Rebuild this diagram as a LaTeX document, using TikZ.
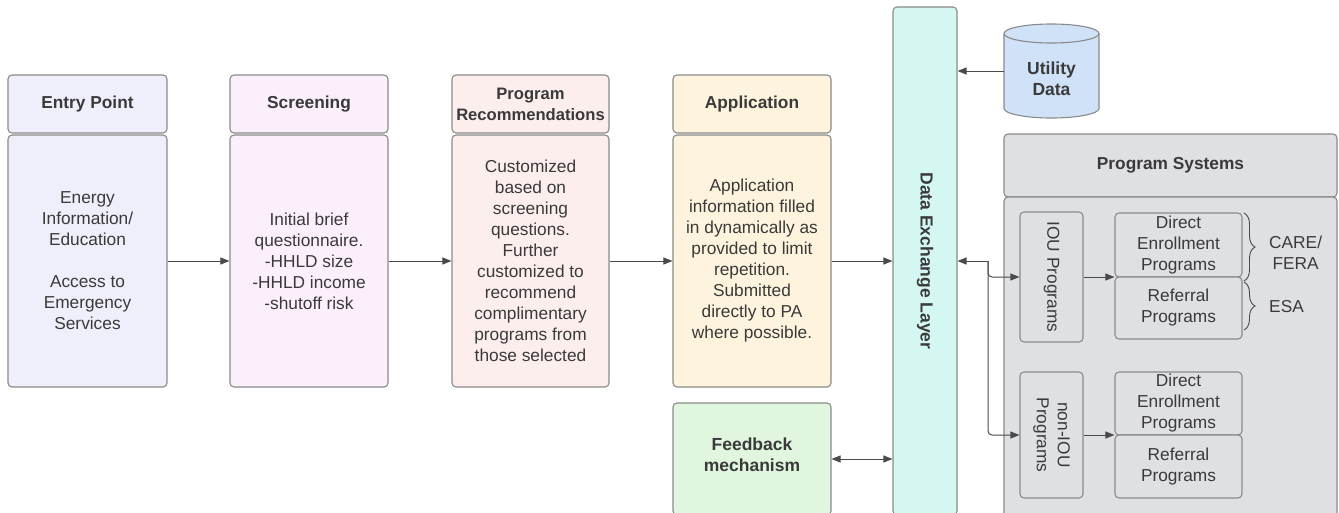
\documentclass[tikz,border=0pt]{standalone}
\usepackage{fontspec}
\setmainfont{Liberation Sans}
\usetikzlibrary{arrows.meta,decorations.pathreplacing,calc}
\definecolor{bordc}{HTML}{8A8A8A}
\definecolor{txt}{HTML}{3A3A3A}
\definecolor{arrc}{HTML}{4A4A4A}
\definecolor{entryfill}{HTML}{EFEFFC}
\definecolor{screenfill}{HTML}{FBEFFC}
\definecolor{progfill}{HTML}{FDEEEE}
\definecolor{appfill}{HTML}{FEF3DD}
\definecolor{delfill}{HTML}{D4F8F1}
\definecolor{utilfill}{HTML}{CFE2F8}
\definecolor{psfill}{HTML}{DFE0E4}
\definecolor{fbfill}{HTML}{E0F6DF}
\begin{document}
\begin{tikzpicture}[x=1pt,y=-1pt,
  box/.style={draw=bordc, line width=1.1pt, rounded corners=4pt, inner sep=0pt, align=center, text=txt,
    font=\fontsize{17.3}{21}\selectfont},
  headbox/.style={box, font=\fontsize{17.3}{21}\selectfont\bfseries},
  lbl/.style={inner sep=0pt, align=center, text=txt, font=\fontsize{17.3}{21}\selectfont},
  blbl/.style={lbl, font=\fontsize{17.5}{21}\selectfont\bfseries},
  arr/.style={draw=arrc, line width=1pt, -{Triangle[length=9pt,width=7pt]}},
  darr/.style={draw=arrc, line width=1pt, {Triangle[length=9pt,width=7pt]}-{Triangle[length=9pt,width=7pt]}},
  bracestyle/.style={draw=arrc, line width=0.9pt, decorate, decoration={brace, amplitude=11pt}}
]
\useasboundingbox (0,0) rectangle (1339,512);

% Column headers
\node[headbox, fill=entryfill, minimum width=159pt, minimum height=58pt] (eph) at (87.5,104) {Entry Point};
\node[headbox, fill=screenfill, minimum width=158pt, minimum height=58pt] (sch) at (309,104) {Screening};
\node[headbox, fill=progfill, minimum width=157pt, minimum height=58pt, font=\fontsize{16.6}{21}\selectfont\bfseries] (prh) at (530.5,104) {Program\\Recommendations};
\node[headbox, fill=appfill, minimum width=158pt, minimum height=58pt] (aph) at (752,104) {Application};

% Column bodies
\node[box, fill=entryfill, minimum width=159pt, minimum height=252pt] (epb) at (87.5,261) {};
\node[lbl] at (epb.center) {Energy\\Information/\\Education\\[21pt]Access to\\Emergency\\Services};
\node[box, fill=screenfill, minimum width=158pt, minimum height=252pt] (scb) at (309,261) {};
\node[lbl] at (scb.center) {Initial brief\\questionnaire.\\-HHLD size\\-HHLD income\\-shutoff risk};
\node[box, fill=progfill, minimum width=157pt, minimum height=252pt] (prb) at (530.5,261) {};
\node[lbl] at (prb.center) {Customized\\based on\\screening\\questions.\\Further\\customized to\\recommend\\complimentary\\programs from\\those selected};
\node[box, fill=appfill, minimum width=158pt, minimum height=252pt] (apb) at (752,261) {};
\node[lbl] at (apb.center) {Application\\information filled\\in dynamically as\\provided to limit\\repetition.\\Submitted\\directly to PA\\where possible.};

% Data exchange layer
\node[box, fill=delfill, minimum width=64pt, minimum height=508pt] (del) at (925,261) {};
\node[blbl, rotate=-90] (deltext) at (925,261) {Data Exchange Layer};

% Feedback
\node[box, fill=fbfill, minimum width=158pt, minimum height=112pt] (fb) at (752,459) {};
\node[blbl] (fbtext) at (752,455) {Feedback\\mechanism};

% Utility data cylinder
\node[inner sep=0pt, minimum width=95pt, minimum height=94pt] (util) at (1051.5,71) {};
\filldraw[draw=bordc, fill=utilfill, line width=1.1pt]
  (1004,33.5) -- (1004,108.5) arc[start angle=180, end angle=360, x radius=47.5pt, y radius=9.5pt]
  -- (1099,33.5) arc[start angle=0, end angle=180, x radius=47.5pt, y radius=9.5pt] -- cycle;
\draw[draw=bordc, line width=1.1pt] (1004,33.5) arc[start angle=180, end angle=360, x radius=47.5pt, y radius=9.5pt];
\node[blbl] (utiltext) at (1051.5,79) {Utility\\Data};

% Program systems
\node[headbox, fill=psfill, minimum width=333pt, minimum height=63pt] (psh) at (1170.5,165.5) {Program Systems};
\node[box, fill=psfill, minimum width=333pt, minimum height=323pt] (psb) at (1170.5,358.5) {};

\node[box, fill=psfill, minimum width=63pt, minimum height=130pt] (iou) at (1051.5,277) {};
\node[lbl, rotate=-90] (ioutext) at (iou.center) {IOU Programs};
\node[box, fill=psfill, minimum width=127pt, minimum height=64pt] (de1) at (1178.5,245) {Direct\\Enrollment\\Programs};
\node[box, fill=psfill, minimum width=127pt, minimum height=62pt] (rf1) at (1178.5,308) {Referral\\Programs};

\node[box, fill=psfill, minimum width=63pt, minimum height=126pt] (non) at (1051.5,435) {};
\node[lbl, rotate=-90] (nontext) at (non.center) {non-IOU\\Programs};
\node[box, fill=psfill, minimum width=127pt, minimum height=63pt] (de2) at (1178.5,403.5) {Direct\\Enrollment\\Programs};
\node[box, fill=psfill, minimum width=127pt, minimum height=63pt] (rf2) at (1178.5,466.5) {Referral\\Programs};

% Braces and labels
\draw[bracestyle] (1244,213) -- (1244,281);
\draw[bracestyle] (1244,282) -- (1244,330);
\node[lbl, anchor=west] (care) at (1269,253) {CARE/\\FERA};
\node[lbl, anchor=west] (esa) at (1269,307) {ESA};

% Connectors
\draw[arr] (epb.east) -- (scb.west);
\draw[arr] (scb.east) -- (prb.west);
\draw[arr] (prb.east) -- (apb.west);
\draw[arr] (apb.east) -- (del.west);
\draw[darr] (fb.east) -- (fb.east -| del.west);
\draw[arr] (util.west) -- (util.west -| del.east);

\coordinate (split) at (988,261);
\draw[arr] (split) -- (del.east);
\draw[arr, rounded corners=4pt] (split) |- (iou.west);
\draw[arr, rounded corners=4pt] (split) |- (non.west);
\draw[arr] (iou.east) -- (iou.east -| de1.west);
\draw[arr] (non.east) -- (non.east -| de2.west);
\end{tikzpicture}
\end{document}
